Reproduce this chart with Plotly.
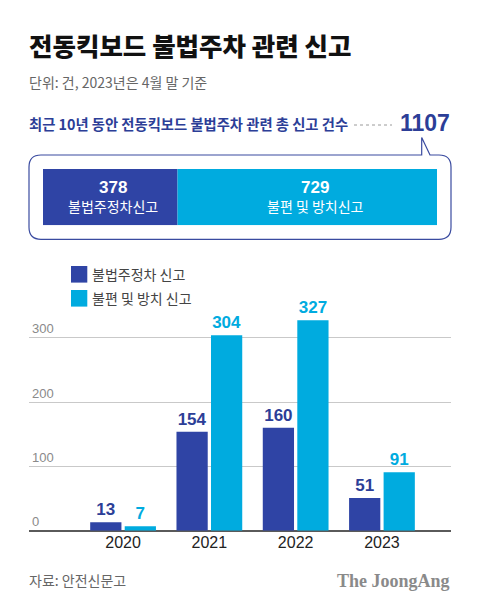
import plotly.graph_objects as go

# ---- data ----
years = ["2020", "2021", "2022", "2023"]
illegal_parking = [13, 154, 160, 51]
inconvenience = [7, 304, 327, 91]
series_names = ["불법주정차 신고", "불편 및 방치 신고"]
total_names = ["불법주정차신고", "불편 및 방치신고"]
total_values = [378, 729]
grand_total = 1107
y_ticks = [0, 100, 200, 300]

DARK = "#2f44a5"
LIGHT = "#00abdf"
NAVY = "#2c3e97"
KR = "Noto Sans CJK KR"
NUM = "Liberation Sans, Noto Sans CJK KR"

# page body has an 8px default margin; figure sized to fit the window
OFF = 8
W, H = 480 - 2 * OFF, 609 - 2 * OFF


def px(x):
    return (x - OFF) / W


def py(y):
    return 1 - (y - OFF) / H


fig = go.Figure()

# main grouped bars
fig.add_trace(go.Bar(
    x=years, y=illegal_parking, name=series_names[0],
    marker=dict(color=DARK, line=dict(width=0)),
    text=illegal_parking, textposition="outside", cliponaxis=False,
    textfont=dict(family=NUM, size=17, color=NAVY, weight=700),
    showlegend=False,
))
fig.add_trace(go.Bar(
    x=years, y=inconvenience, name=series_names[1],
    marker=dict(color=LIGHT, line=dict(width=0)),
    text=inconvenience, textposition="outside", cliponaxis=False,
    textfont=dict(family=NUM, size=17, color=LIGHT, weight=700),
    showlegend=False,
))

# summary stacked bar
bases = [0, total_values[0]]
fig.add_trace(go.Bar(
    x=total_values, y=[0, 0], base=bases, orientation="h",
    width=[1, 1], marker=dict(color=[DARK, LIGHT], line=dict(width=0)),
    xaxis="x2", yaxis="y2", showlegend=False, hoverinfo="skip",
))

base_px = 530.7
top_px = 300
y_top_val = (base_px - top_px) / 0.6433

fig.update_layout(
    width=W, height=H,
    margin=dict(l=0, r=0, t=0, b=0),
    paper_bgcolor="white", plot_bgcolor="white",
    barmode="group", bargap=0.2, bargroupgap=0.095,
    xaxis=dict(
        domain=[px(29), px(451)], range=[-1.09, 3.80], type="category",
        showgrid=False, ticks="", showline=False,
        tickfont=dict(family=NUM, size=16, color="#222"),
        fixedrange=True,
    ),
    yaxis=dict(
        domain=[py(base_px), py(top_px)], range=[0, y_top_val],
        tickvals=y_ticks, ticktext=[str(v) for v in y_ticks],
        ticklabelposition="inside top",
        tickfont=dict(family=NUM, size=13, color="#8a8a8a"),
        showgrid=True, gridcolor="#c9c9c9", gridwidth=1,
        zeroline=True, zerolinecolor="#5a5a5a", zerolinewidth=2,
        showline=False, ticks="",
    ),
    xaxis2=dict(domain=[px(43), px(437)], range=[0, grand_total],
                visible=False, anchor="y2"),
    yaxis2=dict(domain=[py(225.3), py(169)], range=[-0.5, 0.5],
                visible=False, anchor="x2"),
)

ann = []
# title
ann.append(dict(x=px(27), y=py(44), xref="paper", yref="paper", xanchor="left", yanchor="middle",
                text="전동킥보드 불법주차 관련 신고", showarrow=False,
                font=dict(family=KR, size=25.5, color="#111", weight=900)))
ann.append(dict(x=px(27), y=py(82), xref="paper", yref="paper", xanchor="left", yanchor="middle",
                text="단위: 건, 2023년은 4월 말 기준", showarrow=False,
                font=dict(family=KR, size=14, color="#666")))
ann.append(dict(x=px(27), y=py(123), xref="paper", yref="paper", xanchor="left", yanchor="middle",
                text="<b>최근 10년 동안 전동킥보드 불법주차 관련 총 신고 건수</b>", showarrow=False,
                font=dict(family=KR, size=14.3, color=NAVY)))
ann.append(dict(x=px(452), y=py(123), xref="paper", yref="paper", xanchor="right", yanchor="middle",
                text="<b>%d</b>" % grand_total, showarrow=False,
                font=dict(family=NUM, size=23, color=NAVY)))

# summary bar labels
shifts = [3, 8]
for i, (v, name) in enumerate(zip(total_values, total_names)):
    cx = bases[i] + v / 2
    ann.append(dict(x=cx, y=0, xref="x2", yref="y2", xanchor="center", yanchor="middle",
                    text="<b>%d</b>" % v, showarrow=False, yshift=10, xshift=shifts[i],
                    font=dict(family=NUM, size=17, color="white")))
    ann.append(dict(x=cx, y=0, xref="x2", yref="y2", xanchor="center", yanchor="middle",
                    text=name, showarrow=False, yshift=-9, xshift=shifts[i],
                    font=dict(family=KR, size=14, color="white")))

# legend
leg_y = [274.3, 298.3]
leg_colors = [DARK, LIGHT]
shapes = []
for yy, col, name in zip(leg_y, leg_colors, series_names):
    shapes.append(dict(type="rect", xref="paper", yref="paper",
                       x0=px(71), x1=px(87.3), y0=py(yy - 8.3), y1=py(yy + 8.3),
                       fillcolor=col, line=dict(width=0)))
    ann.append(dict(x=px(90), y=py(yy), xref="paper", yref="paper", xanchor="left", yanchor="middle",
                    text=name, showarrow=False, font=dict(family=KR, size=14, color="#444")))

# footer
ann.append(dict(x=px(27), y=py(580), xref="paper", yref="paper", xanchor="left", yanchor="middle",
                text="자료: 안전신문고", showarrow=False, font=dict(family=KR, size=14, color="#666")))
ann.append(dict(x=px(452), y=py(581), xref="paper", yref="paper", xanchor="right", yanchor="middle",
                text="<b>The JoongAng</b>", showarrow=False,
                font=dict(family="Liberation Serif", size=18, color="#8a8a8a")))

# dotted leader line
shapes.append(dict(type="line", xref="paper", yref="paper", x0=px(354), x1=px(392),
                   y0=py(125), y1=py(125), line=dict(color="#9a9a9a", width=1, dash="dot")))

# callout box with pointer
L, R, T, B, r = 29, 451, 155, 239.3, 12
ax, bx, tipy = 421.7, 430, 137.5


def P(x, y):
    return "%.5f,%.5f" % (px(x), py(y))


path = ("M " + P(L + r, T) + " L " + P(ax, T) + " L " + P(ax, tipy) + " L " + P(bx, T) +
        " L " + P(R - r, T) + " Q " + P(R, T) + " " + P(R, T + r) +
        " L " + P(R, B - r) + " Q " + P(R, B) + " " + P(R - r, B) +
        " L " + P(L + r, B) + " Q " + P(L, B) + " " + P(L, B - r) +
        " L " + P(L, T + r) + " Q " + P(L, T) + " " + P(L + r, T) + " Z")
shapes.append(dict(type="path", xref="paper", yref="paper", path=path,
                   line=dict(color="#3a4ba0", width=1.2), fillcolor="rgba(0,0,0,0)", layer="below"))

fig.update_layout(annotations=ann, shapes=shapes)

fig.write_html("out.html")
